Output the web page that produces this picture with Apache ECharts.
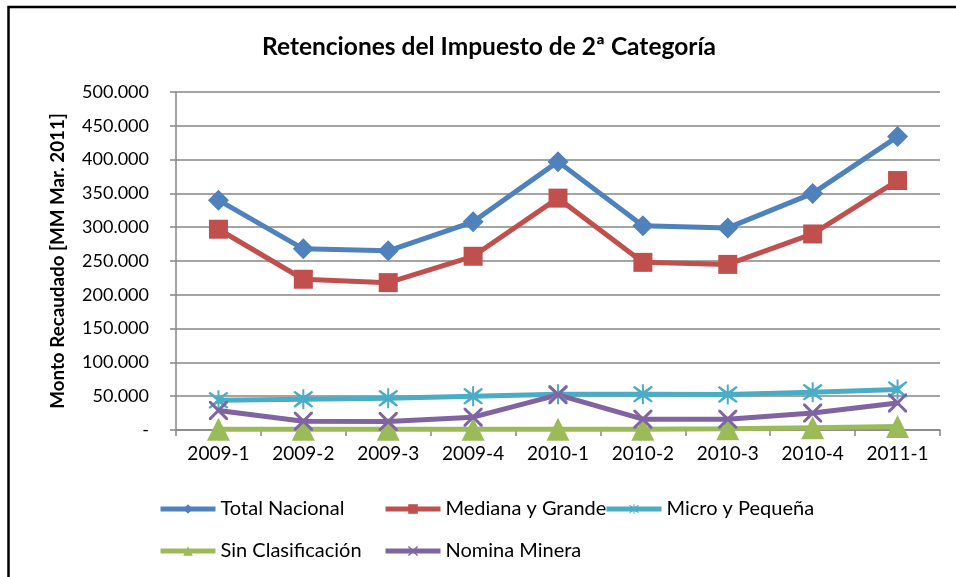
<!DOCTYPE html>
<html>
<head>
<meta charset="utf-8">
<script src="https://cdn.jsdelivr.net/npm/echarts@6/dist/echarts.min.js"></script>
<style>
html,body{margin:0;padding:0;background:#fff;}
#chart{width:956px;height:577px;}
</style>
</head>
<body>
<div id="chart"></div>
<script>
var categories = ['2009-1','2009-2','2009-3','2009-4','2010-1','2010-2','2010-3','2010-4','2011-1'];
var totalNacional = [340000, 268000, 265000, 308000, 397000, 302000, 299000, 350000, 434000];
var medianaGrande = [297000, 223000, 218000, 257000, 343000, 248000, 245000, 290000, 369000];
var microPequena = [44000, 45500, 47000, 50000, 53000, 53000, 52500, 56000, 60000];
var sinClasificacion = [1000, 1000, 1000, 1000, 1000, 1200, 2000, 3500, 5000];
var nominaMinera = [29000, 13000, 12500, 19000, 52000, 16000, 16000, 25000, 40000];
var seriesNames = ['Total Nacional','Mediana y Grande','Micro y Pequeña','Sin Clasificación','Nomina Minera'];
var yTicks = [0, 50000, 100000, 150000, 200000, 250000, 300000, 350000, 400000, 450000, 500000];

var FONT = 'Lato';
var xPath = 'path://M0,0 L2.2,0 L10,7.8 L17.8,0 L20,0 L20,2.2 L12.2,10 L20,17.8 L20,20 L17.8,20 L10,12.2 L2.2,20 L0,20 L0,17.8 L7.8,10 L0,2.2 Z';
var starPath = 'path://M0,3 L1.6,1.6 L10,7.5 L18.4,1.6 L20,3 L12,10 L20,17 L18.4,18.4 L10,12.5 L1.6,18.4 L0,17 L8,10 Z M9,0 L11,0 L11,20 L9,20 Z';

function fmt(v){
  if (v === 0) return '-';
  var s = String(Math.round(v));
  return s.replace(/\B(?=(\d{3})+(?!\d))/g, '.');
}

var chart = echarts.init(document.getElementById('chart'), null, {renderer:'canvas'});

function mkSeries(name, data, color, symbol, size){
  return {
    name: name, type: 'line', data: data,
    symbol: symbol, symbolSize: size,
    showAllSymbol: true,
    lineStyle: {color: color, width: 5},
    itemStyle: {color: color},
    emphasis: {disabled: true},
    animation: false,
    clip: false
  };
}

var legendPos = [[158, 499], [383, 499], [604, 499], [158, 541], [383, 541]];
var legends = seriesNames.map(function(n, i){
  return {
    data: [n], left: legendPos[i][0], top: legendPos[i][1], padding: 0,
    itemWidth: 55, itemHeight: 12, itemGap: 0,
    lineStyle: {width: 5},
    textStyle: {fontFamily: FONT, fontSize: 20, color: '#000'},
    selectedMode: false
  };
});

chart.setOption({
  animation: false,
  backgroundColor: '#fff',
  title: {
    text: 'Retenciones del Impuesto de 2ª Categoría',
    left: 257, top: 30,
    textStyle: {fontFamily: FONT, fontSize: 24.5, fontWeight: 'bold', color: '#000'}
  },
  graphic: [{
    type: 'rect', silent: true,
    shape: {x: 8.5, y: 7, width: 1000, height: 700},
    style: {fill: 'none', stroke: '#000', lineWidth: 2.5}
  }],
  legend: legends,
  grid: {left: 176, right: 16, top: 92, bottom: 147, containLabel: false},
  xAxis: {
    type: 'category', data: categories, boundaryGap: true,
    axisLine: {lineStyle: {color: '#868686', width: 1.5}},
    axisTick: {show: true, length: 6, lineStyle: {color: '#868686', width: 1.5}},
    axisLabel: {fontFamily: FONT, fontSize: 19, color: '#000', margin: 14}
  },
  yAxis: {
    type: 'value', min: 0, max: 500000, interval: 50000,
    name: 'Monto Recaudado [MM Mar. 2011]',
    nameLocation: 'middle', nameRotate: 90, nameGap: 109,
    nameTextStyle: {fontFamily: FONT, fontSize: 18.8, fontWeight: 'bold', color: '#000'},
    axisLine: {show: true, lineStyle: {color: '#868686', width: 1.5}},
    axisTick: {show: true, length: 6, lineStyle: {color: '#868686', width: 1.5}},
    splitLine: {lineStyle: {color: '#868686', width: 1.5}},
    axisLabel: {fontFamily: FONT, fontSize: 18, color: '#000', margin: 27, formatter: fmt}
  },
  series: [
    mkSeries(seriesNames[0], totalNacional, '#4F81BD', 'diamond', 21),
    mkSeries(seriesNames[1], medianaGrande, '#C0504D', 'rect', 19),
    mkSeries(seriesNames[2], microPequena, '#4BACC6', starPath, 20),
    mkSeries(seriesNames[3], sinClasificacion, '#9BBB59', 'triangle', 23),
    mkSeries(seriesNames[4], nominaMinera, '#8064A2', xPath, 19)
  ]
});
</script>
</body>
</html>
